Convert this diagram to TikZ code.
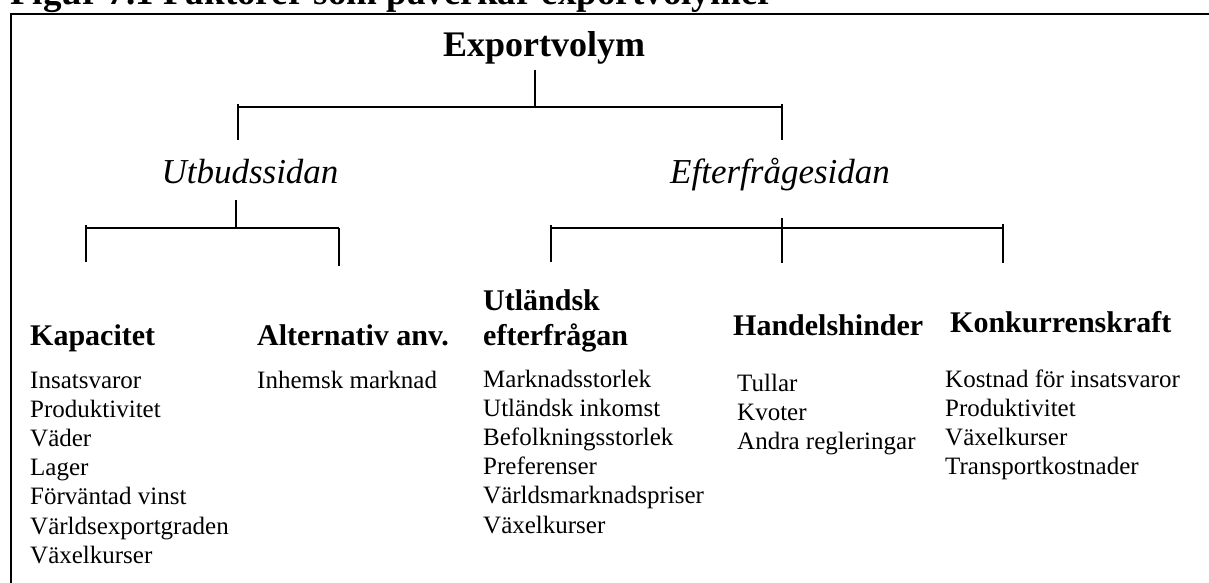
\documentclass[tikz,border=0pt]{standalone}
\usepackage{fontspec}
\setmainfont{Liberation Serif}
\begin{document}
\begin{tikzpicture}[x=1pt, y=-1pt,
    heading/.style={font=\fontsize{30}{35}\selectfont\bfseries, anchor=base west, inner sep=0pt, align=left},
    side/.style={font=\fontsize{35}{40}\selectfont\itshape, anchor=base, inner sep=0pt},
    factors/.style={font=\fontsize{25}{29.2}\selectfont, anchor=base west, inner sep=0pt, align=left},
    link/.style={line width=1.6pt}]
    \useasboundingbox (0,0) rectangle (1209,583);
    \clip (0,0) rectangle (1209,583);

    % Frame and title
    \draw[line width=2.5pt] (11,14) rectangle (1240,620);
    \node[anchor=base west, inner sep=0pt, font=\fontsize{37}{40}\selectfont\bfseries] (title) at (10,5) {Figur 7.1 Faktorer som påverkar exportvolymer};

    % Top
    \node[anchor=base, inner sep=0pt, font=\fontsize{36}{40}\selectfont\bfseries] (expo) at (544,57) {Exportvolym};

    % Sides
    \node[side] (utbud) at (250,183) {Utbudssidan};
    \node[side] (efter) at (780,183) {Efterfrågesidan};

    % Tree, top level
    \coordinate (x0) at (535,70);
    \coordinate (xl) at (238,107);
    \coordinate (xr) at (782,107);
    \draw[link] (x0) -- (x0 |- xl);
    \draw[link] (xl) -- (xr);
    \draw[link] (xl) ++(0,-3) -- ++(0,36);
    \draw[link] (xr) ++(0,-3) -- ++(0,36);

    % Tree, supply side
    \coordinate (u0) at (236,200);
    \coordinate (ul) at (86,228);
    \coordinate (ur) at (339,228);
    \draw[link] (u0) -- (u0 |- ul);
    \draw[link] (ul) -- (ur);
    \draw[link] (ul) ++(0,-3) -- ++(0,37);
    \draw[link] (ur) -- ++(0,38);

    % Tree, demand side
    \coordinate (e0) at (782,218);
    \coordinate (el) at (551,228);
    \coordinate (er) at (1003,228);
    \draw[link] (e0) -- ++(0,45);
    \draw[link] (el) -- (er);
    \draw[link] (el) ++(0,-3) -- ++(0,37);
    \draw[link] (er) ++(0,-4) -- ++(0,39);

    % Headings (base = last line)
    \node[heading] (kap) at (30,345) {Kapacitet};
    \node[heading] (alt) at (257,345) {Alternativ anv.};
    \node[heading] (utl) at (483,345) {Utländsk\\efterfrågan};
    \node[heading] (hind) at (733,335) {Handelshinder};
    \node[heading] (konk) at (950,332) {Konkurrenskraft};

    % Factors (base = last line)
    \node[factors] (kap-list) at (30,563.2) {Insatsvaror\\Produktivitet\\Väder\\Lager\\Förväntad vinst\\Världsexportgraden\\Växelkurser};
    \node[factors] (alt-list) at (257,388) {Inhemsk marknad};
    \node[factors] (utl-list) at (483,533) {Marknadsstorlek\\Utländsk inkomst\\Befolkningsstorlek\\Preferenser\\Världsmarknadspriser\\Växelkurser};
    \node[factors] (hind-list) at (737,449.4) {Tullar\\Kvoter\\Andra regleringar};
    \node[factors] (konk-list) at (945,474.6) {Kostnad för insatsvaror\\Produktivitet\\Växelkurser\\Transportkostnader};
\end{tikzpicture}
\end{document}
